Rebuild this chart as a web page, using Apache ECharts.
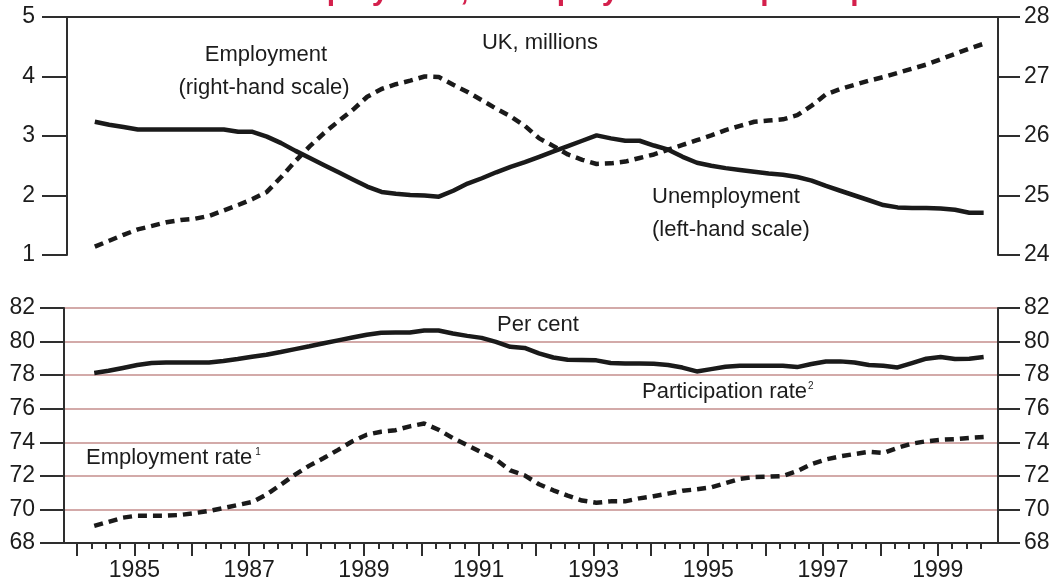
<!DOCTYPE html>
<html><head><meta charset="utf-8">
<script src="https://cdn.jsdelivr.net/npm/echarts@6/dist/echarts.min.js"></script>
<style>html,body{margin:0;padding:0;background:#fff}#c{width:1057px;height:583px}</style>
</head><body><div id="c"></div>
<script>
// Quarterly LFS periods (decimal year of period mid-point)
const periods = [1984.3,1984.55,1984.8,
 1985.05,1985.3,1985.55,1985.8, 1986.05,1986.3,1986.55,1986.8,
 1987.05,1987.3,1987.55,1987.8, 1988.05,1988.3,1988.55,1988.8,
 1989.05,1989.3,1989.55,1989.8, 1990.05,1990.3,1990.55,1990.8,
 1991.05,1991.3,1991.55,1991.8, 1992.05,1992.3,1992.55,1992.8,
 1993.05,1993.3,1993.55,1993.8, 1994.05,1994.3,1994.55,1994.8,
 1995.05,1995.3,1995.55,1995.8, 1996.05,1996.3,1996.55,1996.8,
 1997.05,1997.3,1997.55,1997.8, 1998.05,1998.3,1998.55,1998.8,
 1999.05,1999.3,1999.55,1999.8];

// UK, millions
const unemployment = [3.24,3.19,3.15,3.11,3.11,3.11,3.11,3.11,3.11,3.11,
 3.07,3.07,2.99,2.88,2.75,2.63,2.51,2.39,2.27,2.15,
 2.06,2.03,2.01,2.00,1.98,2.08,2.20,2.29,2.39,2.48,
 2.56,2.65,2.74,2.83,2.92,3.01,2.96,2.92,2.92,2.84,
 2.77,2.65,2.55,2.50,2.46,2.43,2.40,2.37,2.35,2.31,
 2.25,2.16,2.08,2.00,1.92,1.84,1.80,1.79,1.79,1.78,
 1.76,1.71,1.71];
const employment = [24.14,24.24,24.34,24.43,24.49,24.55,24.59,24.61,24.66,24.75,
 24.84,24.94,25.06,25.31,25.58,25.83,26.05,26.25,26.44,26.66,
 26.79,26.87,26.93,27.00,26.99,26.86,26.74,26.60,26.46,26.33,
 26.17,25.96,25.83,25.69,25.60,25.53,25.54,25.57,25.63,25.69,
 25.77,25.85,25.93,26.01,26.10,26.17,26.24,26.26,26.28,26.35,
 26.51,26.70,26.79,26.86,26.93,26.99,27.06,27.13,27.20,27.29,
 27.38,27.47,27.55];

// Per cent
const participationRate = [78.13,78.26,78.43,78.60,78.72,78.76,78.76,78.76,78.76,78.84,
 78.96,79.10,79.22,79.38,79.55,79.72,79.90,80.07,80.24,80.41,
 80.53,80.54,80.54,80.66,80.66,80.48,80.34,80.22,79.98,79.69,
 79.62,79.30,79.05,78.92,78.90,78.88,78.72,78.70,78.69,78.68,
 78.60,78.45,78.22,78.36,78.50,78.56,78.56,78.56,78.56,78.48,
 78.66,78.81,78.82,78.75,78.60,78.56,78.46,78.72,78.98,79.08,
 78.96,78.98,79.08];
const employmentRate = [69.02,69.26,69.51,69.63,69.63,69.63,69.67,69.78,69.91,70.08,
 70.26,70.44,70.88,71.47,72.07,72.61,73.06,73.55,74.06,74.45,
 74.63,74.72,74.95,75.12,74.75,74.25,73.83,73.40,72.97,72.32,
 72.03,71.50,71.14,70.82,70.53,70.40,70.48,70.48,70.66,70.79,
 70.94,71.11,71.20,71.31,71.57,71.82,71.93,71.95,71.99,72.28,
 72.70,72.98,73.16,73.30,73.43,73.36,73.67,73.92,74.06,74.15,
 74.19,74.26,74.31];

// Axis ticks / labels
const tickYears = [1984,1985,1986,1987,1988,1989,1990,1991,1992,1993,1994,1995,1996,1997,1998,1999];
const labelYears = [1985,1987,1989,1991,1993,1995,1997,1999];
const quarterTicks = [];
tickYears.forEach(y => { quarterTicks.push(y + 0.25, y + 0.5, y + 0.75); });

const FONT = "'Liberation Sans', Arial, sans-serif";
const INK = '#1a1a1a';
const AX = '#2e2e2e';
const TXT = '#1c1c1c';
const pairs = vals => periods.map((p, i) => [p, vals[i]]);

const chart = echarts.init(document.getElementById('c'), null, {renderer: 'canvas'});
const axisLine = {show: true, lineStyle: {color: AX, width: 2}};
const lab = m => ({margin: m, fontSize: 23, color: TXT, fontFamily: FONT});

chart.setOption({
  animation: false,
  backgroundColor: '#fff',
  grid: [
    {left: 67, right: 59, top: 17, height: 238},
    {left: 64, right: 59, top: 308, height: 235}
  ],
  xAxis: [
    {gridIndex: 0, type: 'value', min: 1983.815, max: 2000.05, position: 'top',
     axisLine: axisLine, axisTick: {show: false}, axisLabel: {show: false}, splitLine: {show: false}},
    {gridIndex: 1, type: 'value', min: 1983.773, max: 2000.05, position: 'bottom',
     axisLine: axisLine,
     axisTick: {show: true, customValues: tickYears, length: 13, lineStyle: {color: AX, width: 2}},
     axisLabel: Object.assign(lab(16), {customValues: labelYears, formatter: v => String(v)}),
     splitLine: {show: false}},
    {gridIndex: 1, type: 'value', min: 1983.773, max: 2000.05, position: 'bottom',
     axisLine: {show: false},
     axisTick: {show: true, customValues: quarterTicks, length: 6, lineStyle: {color: AX, width: 2}},
     axisLabel: {show: false}, splitLine: {show: false}}
  ],
  yAxis: [
    {gridIndex: 0, type: 'value', min: 1, max: 5, interval: 1, position: 'left',
     axisLine: axisLine, axisTick: {show: true, length: 25, lineStyle: {color: AX, width: 2}},
     axisLabel: lab(32), splitLine: {show: false}},
    {gridIndex: 0, type: 'value', min: 24, max: 28, interval: 1, position: 'right',
     axisLine: axisLine, axisTick: {show: true, length: 22, lineStyle: {color: AX, width: 2}},
     axisLabel: lab(26), splitLine: {show: false}},
    {gridIndex: 1, type: 'value', min: 68, max: 82, interval: 2, position: 'left',
     axisLine: axisLine, axisTick: {show: true, length: 24, lineStyle: {color: AX, width: 2}},
     axisLabel: lab(29), splitLine: {show: true, lineStyle: {color: '#c48e8c', width: 1.5}}},
    {gridIndex: 1, type: 'value', min: 68, max: 82, interval: 2, position: 'right',
     axisLine: axisLine, axisTick: {show: true, length: 22, lineStyle: {color: AX, width: 2}},
     axisLabel: lab(26), splitLine: {show: false}}
  ],
  series: [
    {name: 'Unemployment', type: 'line', xAxisIndex: 0, yAxisIndex: 0, data: pairs(unemployment),
     showSymbol: false, lineStyle: {color: INK, width: 4.5}, z: 3},
    {name: 'Employment', type: 'line', xAxisIndex: 0, yAxisIndex: 1, data: pairs(employment),
     showSymbol: false, lineStyle: {color: INK, width: 4.5, type: [9, 6]}, z: 3},
    {name: 'Participation rate', type: 'line', xAxisIndex: 1, yAxisIndex: 2, data: pairs(participationRate),
     showSymbol: false, lineStyle: {color: INK, width: 4.5}, z: 3},
    {name: 'Employment rate', type: 'line', xAxisIndex: 1, yAxisIndex: 2, data: pairs(employmentRate),
     showSymbol: false, lineStyle: {color: INK, width: 4.5, type: [9, 6]}, z: 3}
  ],
  graphic: [
    {type: 'text', x: 506, y: -8, style: {text: 'Chart 2.1: LFS employment, unemployment and participation',
      fill: '#d4204c', fontSize: 30, fontWeight: 'bold', fontFamily: FONT, align: 'center', verticalAlign: 'middle'}},
    {type: 'text', x: 540, y: 43, style: {text: 'UK, millions', fill: TXT, fontSize: 22, fontFamily: FONT,
      align: 'center', verticalAlign: 'middle'}},
    {type: 'text', x: 266, y: 55, style: {text: 'Employment', fill: TXT, fontSize: 22, fontFamily: FONT,
      align: 'center', verticalAlign: 'middle'}},
    {type: 'text', x: 264, y: 88, style: {text: '(right-hand scale)', fill: TXT, fontSize: 22, fontFamily: FONT,
      align: 'center', verticalAlign: 'middle'}},
    {type: 'text', x: 652, y: 197, style: {text: 'Unemployment', fill: TXT, fontSize: 22, fontFamily: FONT,
      align: 'left', verticalAlign: 'middle'}},
    {type: 'text', x: 652, y: 230, style: {text: '(left-hand scale)', fill: TXT, fontSize: 22, fontFamily: FONT,
      align: 'left', verticalAlign: 'middle'}},
    {type: 'text', x: 497, y: 325, style: {text: 'Per cent', fill: TXT, fontSize: 22, fontFamily: FONT,
      align: 'left', verticalAlign: 'middle'}},
    {type: 'text', x: 642, y: 392, style: {text: 'Participation rate{s|2}', fill: TXT, fontSize: 22, fontFamily: FONT,
      align: 'left', verticalAlign: 'middle', rich: {s: {fontSize: 10, fill: TXT, fontFamily: FONT, padding: [0, 0, 12, 1]}}}},
    {type: 'text', x: 86, y: 458, style: {text: 'Employment rate{s|1}', fill: TXT, fontSize: 22, fontFamily: FONT,
      align: 'left', verticalAlign: 'middle', rich: {s: {fontSize: 10, fill: TXT, fontFamily: FONT, padding: [0, 0, 12, 3]}}}}
  ]
});
</script>
</body></html>
